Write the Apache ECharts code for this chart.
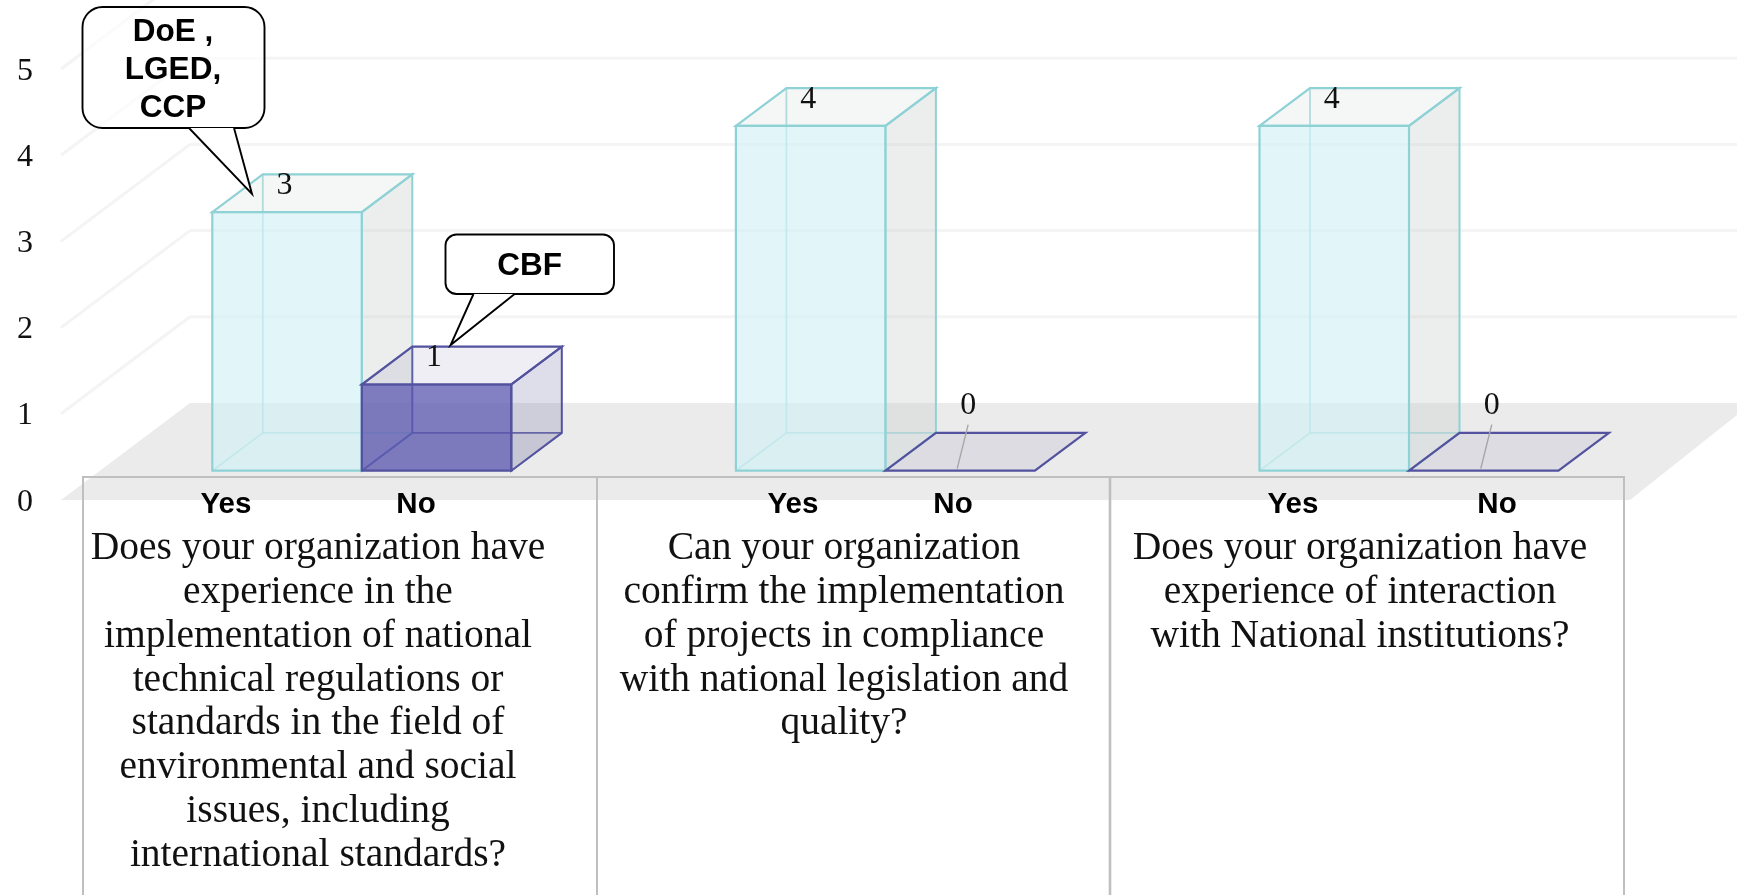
<!DOCTYPE html>
<html>
<head>
<meta charset="utf-8">
<style>html,body{margin:0;padding:0;background:#fff}#c{width:1737px;height:895px}</style>
<script src="https://cdn.jsdelivr.net/npm/echarts@6/dist/echarts.min.js"></script>
</head>
<body>
<div id="c"></div>
<script>
const questions = [
  "Does your organization have\nexperience in the\nimplementation of national\ntechnical regulations or\nstandards in the field of\nenvironmental and social\nissues, including\ninternational standards?",
  "Can your organization\nconfirm the implementation\nof projects in compliance\nwith national legislation and\nquality?",
  "Does your organization have\nexperience of interaction\nwith National institutions?"
];
const yesValues = [3, 4, 4];
const noValues = [1, 0, 0];
const yTicks = [0, 1, 2, 3, 4, 5];
const seriesNames = ["Yes", "No"];
const calloutTexts = ["DoE ,\nLGED,\nCCP", "CBF"];

const SERIF = '"Liberation Serif"';
const SANS = '"Liberation Sans"';
const LABEL_SHIFT = 2.2;
const BAR_W = 149.5, LIFT = 29.3 + LABEL_SHIFT, DX = 50.5, DY = -37.8;
const FLOOR = {fl: 61, fr: 1630, bl: 190, br: 1752, depth: 97};

const yesStyle = {
  front: 'rgba(210,241,246,.65)', side: 'rgba(200,205,205,.35)', top: 'rgba(200,215,210,.2)', bottom: 'rgba(200,230,235,.06)',
  edge: '#8fd2d6', back: 'rgba(143,210,214,.75)'
};
const noStyle = {
  front: 'rgba(90,85,175,.75)', side: 'rgba(90,90,150,.2)', top: 'rgba(90,90,150,.1)', bottom: 'rgba(70,70,130,.06)',
  edge: '#52529f', back: 'rgba(82,82,159,.85)'
};

function poly(points, fill, stroke, lw) {
  return {type: 'polygon', shape: {points}, style: {fill: fill, stroke: stroke || 'none', lineWidth: lw || 0}};
}
function line(a, b, stroke, lw) {
  return {type: 'line', shape: {x1: a[0], y1: a[1], x2: b[0], y2: b[1]}, style: {stroke, lineWidth: lw}};
}

function barRenderer(isYes, st) {
  return function (params, api) {
    const i = api.value(0), v = api.value(1);
    const top = api.coord([i, v]), base = api.coord([i, 0]);
    const xL = isYes ? top[0] - BAR_W : top[0], xR = xL + BAR_W;
    const yT = top[1] - LIFT, yB = base[1] - LIFT;
    const fTL = [xL, yT], fTR = [xR, yT], fBL = [xL, yB], fBR = [xR, yB];
    const s = p => [p[0] + DX, p[1] + DY];
    const kids = [];
    if (v > 0) {
      kids.push(poly([fBL, fBR, s(fBR), s(fBL)], st.bottom));
      kids.push(line(s(fTL), s(fBL), st.back, 1.8), line(s(fBL), s(fBR), st.back, 1.8), line(fBL, s(fBL), st.back, 1.8));
      kids.push(poly([fTR, s(fTR), s(fBR), fBR], st.side, st.edge, 2));
    }
    kids.push(poly([fTL, fTR, s(fTR), s(fTL)], st.top, st.edge, 2.2));
    if (v > 0) kids.push(poly([fTL, fTR, fBR, fBL], st.front, st.edge, 2.2));
    const cx = (xL + xR) / 2;
    if (v > 0) {
      kids.push({type: 'text', style: {text: String(v), x: cx - 2.5, y: yT - 26.5, align: 'center', verticalAlign: 'middle', font: '32px ' + SERIF, fill: '#111'}});
    } else {
      kids.push(line([cx - 3, yB - 2], [cx + 8, yB - 46], '#a6a6a6', 1.4));
      kids.push({type: 'text', style: {text: String(v), x: cx + 8, y: yB - 65.5, align: 'center', verticalAlign: 'middle', font: '32px ' + SERIF, fill: '#111'}});
    }
    return {type: 'group', children: kids};
  };
}

function floorRenderer(params, api) {
  const y0 = api.coord([0, 0])[1] - LABEL_SHIFT, yB = y0 - FLOOR.depth;
  return poly([[FLOOR.fl, y0], [FLOOR.fr, y0], [FLOOR.br, yB], [FLOOR.bl, yB]], '#ebebeb');
}
function gridRenderer(params, api) {
  const y = api.coord([0, api.value(1)])[1] - LABEL_SHIFT;
  const g = '#f4f4f4';
  return {type: 'group', children: [
    line([FLOOR.fl, y], [FLOOR.bl, y - FLOOR.depth], g, 3),
    line([FLOOR.bl, y - FLOOR.depth], [FLOOR.br, y - FLOOR.depth], g, 3)
  ]};
}

const TABLE_TOP = 477, TABLE_BOTTOM = 897;
const tableX = [83, 597, 1110, 1624];
const headerX = [226, 416, 793, 953, 1293, 1497];
const questionX = [318, 844, 1360];

const graphics = [];
graphics.push({type: 'polyline', z: 40, shape: {points: [[tableX[0], TABLE_BOTTOM], [tableX[0], TABLE_TOP], [tableX[3], TABLE_TOP], [tableX[3], TABLE_BOTTOM]]}, style: {fill: 'none', stroke: '#bfbfbf', lineWidth: 2}});
[1, 2].forEach(k => graphics.push({type: 'line', z: 40, shape: {x1: tableX[k], y1: TABLE_TOP, x2: tableX[k], y2: TABLE_BOTTOM}, style: {stroke: '#bfbfbf', lineWidth: k === 2 ? 2.6 : 2}}));
headerX.forEach((x, k) => graphics.push({type: 'text', z: 41, style: {text: seriesNames[k % 2], x, y: 505, align: 'center', verticalAlign: 'middle', font: 'bold 29.5px ' + SANS, fill: '#000'}}));
questions.forEach((q, k) => graphics.push({type: 'text', z: 41, style: {text: q, x: questionX[k], y: 527, align: 'center', verticalAlign: 'top', font: '39.5px ' + SERIF, lineHeight: 43.8, fill: '#111'}}));

function callout(r, tail, text, cx, cy, lh) {
  graphics.push({type: 'rect', z: 50, shape: {x: r[0], y: r[1], width: r[2], height: r[3], r: r[4]}, style: {fill: 'rgba(255,255,255,.6)', stroke: '#000', lineWidth: 1.9}});
  graphics.push({type: 'polygon', z: 51, shape: {points: tail}, style: {fill: '#fff', stroke: 'none'}});
  graphics.push({type: 'polyline', z: 52, shape: {points: tail}, style: {fill: 'none', stroke: '#000', lineWidth: 1.9}});
  graphics.push({type: 'text', z: 53, style: {text, x: cx, y: cy, align: 'center', verticalAlign: 'middle', font: 'bold 31.5px ' + SANS, lineHeight: lh, fill: '#000'}});
}
callout([82.5, 7, 182, 121, 20], [[189, 128], [252, 194], [234, 128]], calloutTexts[0], 173, 70.5, 38.2);
callout([445.5, 234.5, 168.5, 59.5, 11], [[473.5, 294], [450.6, 345], [514.6, 294]], calloutTexts[1], 529.6, 266, 38);

const chart = echarts.init(document.getElementById('c'), null, {renderer: 'canvas'});
chart.setOption({
  animation: false,
  backgroundColor: '#fff',
  grid: {left: 100, top: 69 + LABEL_SHIFT, width: 1570.8, height: 431},
  xAxis: {type: 'category', data: questions.map((q, i) => i), show: false},
  yAxis: {
    type: 'value', min: yTicks[0], max: yTicks[yTicks.length - 1], interval: 1,
    axisLine: {show: false}, axisTick: {show: false}, splitLine: {show: false},
    axisLabel: {margin: 67, color: '#111', fontFamily: SERIF, fontSize: 32}
  },
  series: [
    {type: 'custom', name: 'floor', z: 1, silent: true, renderItem: floorRenderer, data: [[0, 0]], encode: {x: 0, y: 1}},
    {type: 'custom', name: 'walls', z: 1, silent: true, renderItem: gridRenderer, data: yTicks.slice(1).map(t => [0, t]), encode: {x: 0, y: 1}},
    {type: 'custom', name: seriesNames[0], z: 3, renderItem: barRenderer(true, yesStyle), data: yesValues.map((v, i) => [i, v]), encode: {x: 0, y: 1}},
    {type: 'custom', name: seriesNames[1], z: 4, renderItem: barRenderer(false, noStyle), data: noValues.map((v, i) => [i, v]), encode: {x: 0, y: 1}}
  ],
  graphic: {elements: graphics}
});
</script>
</body>
</html>
